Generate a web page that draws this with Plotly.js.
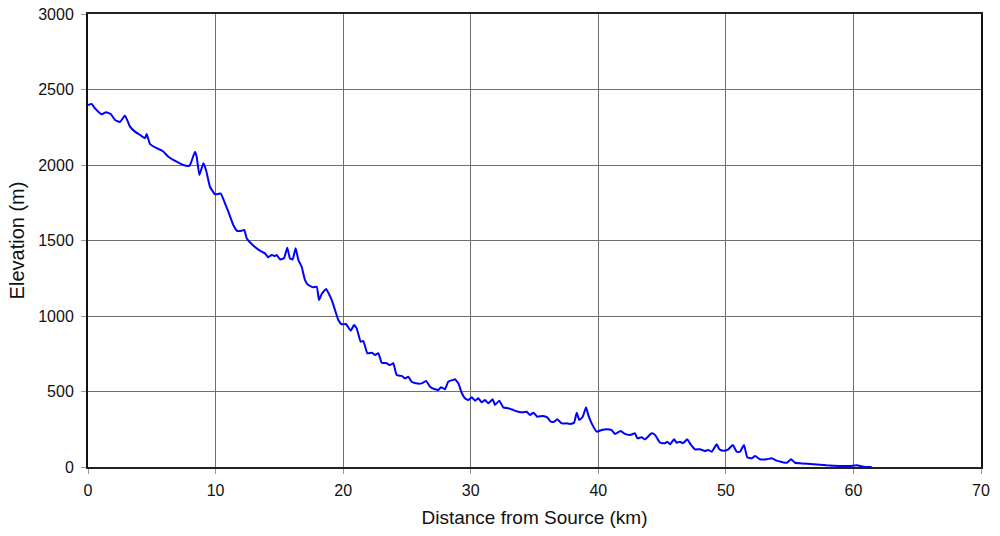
<!DOCTYPE html>
<html>
<head>
<meta charset="utf-8">
<script src="https://cdn.plot.ly/plotly-3.0.1.min.js"></script>
<style>html,body{margin:0;padding:0;background:#fff;}#chart{width:1000px;height:536px;}</style>
</head>
<body>
<div id="chart"></div>
<script>
const distanceKm = [0, 0.29, 0.55, 1.07, 1.41, 1.78, 2.12, 2.51, 2.9, 3.29, 3.68, 4.08, 4.47, 4.6, 4.86, 5.38, 5.85, 6.3, 6.95, 7.47, 7.86, 8.0, 8.39, 8.52, 8.73, 9.04, 9.25, 9.56, 9.96, 10.21, 10.4, 10.74, 11.0, 11.39, 11.7, 12.05, 12.25, 12.44, 12.83, 13.22, 13.61, 13.87, 14.13, 14.4, 14.66, 14.79, 15.05, 15.36, 15.62, 15.83, 16.04, 16.28, 16.49, 16.75, 17.01, 17.27, 17.66, 17.93, 18.11, 18.32, 18.66, 18.84, 19.1, 19.36, 19.62, 19.89, 20.22, 20.59, 20.85, 21.06, 21.38, 21.58, 21.9, 22.24, 22.5, 22.76, 23.02, 23.41, 23.67, 23.93, 24.2, 24.59, 24.85, 25.11, 25.37, 25.71, 26.16, 26.5, 26.81, 27.2, 27.46, 27.67, 27.98, 28.24, 28.59, 28.77, 29.03, 29.29, 29.55, 29.81, 30.08, 30.34, 30.6, 30.86, 31.12, 31.38, 31.72, 31.9, 32.24, 32.55, 32.95, 33.34, 33.73, 34.12, 34.39, 34.65, 34.91, 35.22, 35.64, 36.0, 36.27, 36.53, 36.79, 37.13, 37.47, 37.78, 38.1, 38.31, 38.51, 38.78, 39.04, 39.22, 39.48, 39.88, 40.27, 40.66, 41.05, 41.31, 41.76, 42.09, 42.49, 42.88, 43.06, 43.4, 43.66, 44.19, 44.45, 44.84, 45.23, 45.41, 45.62, 45.94, 46.15, 46.4, 46.62, 46.98, 47.24, 47.58, 47.97, 48.36, 48.62, 48.89, 49.28, 49.49, 49.8, 50.19, 50.54, 50.85, 51.11, 51.42, 51.68, 52.03, 52.29, 52.68, 53.2, 53.59, 53.98, 54.77, 55.11, 55.42, 55.94, 56.86, 57.9, 58.95, 59.73, 60.26, 60.78, 61.43];
const elevationM = [2397, 2404, 2375, 2336, 2349, 2338, 2298, 2285, 2327, 2254, 2221, 2199, 2177, 2205, 2139, 2111, 2093, 2055, 2022, 2000, 1993, 2000, 2088, 2055, 1934, 2011, 1967, 1856, 1806, 1808, 1812, 1746, 1691, 1603, 1563, 1565, 1570, 1515, 1477, 1448, 1426, 1415, 1389, 1404, 1397, 1404, 1375, 1382, 1452, 1382, 1375, 1448, 1371, 1326, 1238, 1205, 1190, 1194, 1106, 1146, 1179, 1154, 1106, 1040, 974, 945, 947, 903, 940, 918, 830, 834, 753, 757, 742, 753, 691, 687, 675, 687, 609, 603, 587, 598, 565, 554, 554, 570, 532, 515, 510, 528, 515, 565, 576, 581, 554, 492, 455, 444, 462, 439, 455, 428, 444, 422, 448, 411, 439, 395, 389, 377, 366, 362, 366, 344, 360, 333, 338, 329, 300, 300, 316, 289, 289, 285, 293, 360, 311, 333, 395, 344, 289, 234, 245, 250, 245, 219, 238, 219, 212, 223, 190, 197, 183, 223, 212, 161, 157, 168, 150, 183, 161, 168, 157, 183, 150, 117, 117, 106, 113, 101, 150, 117, 108, 117, 146, 101, 101, 146, 64, 58, 73, 51, 51, 58, 42, 28, 51, 28, 24, 18, 11, 7, 7, 11, 2, 0];
const xTicks = [0, 10, 20, 30, 40, 50, 60, 70];
const yTicks = [0, 500, 1000, 1500, 2000, 2500, 3000];

const trace = {
  x: distanceKm,
  y: elevationM,
  type: 'scatter',
  mode: 'lines',
  line: {color: '#0000FF', width: 2, shape: 'spline', smoothing: 0.4},
  hoverinfo: 'x+y'
};

const fam = 'Arial, "Liberation Sans", sans-serif';
const tickFont = {family: fam, size: 16, color: '#111'};
const layout = {
  width: 1000,
  height: 536,
  margin: {l: 88, r: 19, t: 14, b: 69},
  paper_bgcolor: '#fff',
  plot_bgcolor: '#fff',
  showlegend: false,
  font: tickFont,
  xaxis: {
    range: [0, 70],
    tickvals: xTicks,
    ticktext: xTicks.map(String),
    ticks: 'outside',
    ticklen: 5,
    tickcolor: '#999',
    ticklabelstandoff: 3,
    showgrid: true,
    gridcolor: '#707070',
    gridwidth: 1,
    zeroline: false,
    showline: true,
    linecolor: '#222',
    linewidth: 2,
    mirror: true,
    tickfont: tickFont,
    title: {text: 'Distance from Source (km)', font: {family: fam, size: 19, color: '#111'}, standoff: 12}
  },
  yaxis: {
    range: [0, 3000],
    tickvals: yTicks,
    ticktext: yTicks.map(String),
    ticks: 'outside',
    ticklen: 5,
    tickcolor: '#999',
    ticklabelstandoff: 4,
    showgrid: true,
    gridcolor: '#707070',
    gridwidth: 1,
    zeroline: false,
    showline: true,
    linecolor: '#111',
    linewidth: 2,
    mirror: true,
    tickfont: tickFont,
    title: {text: 'Elevation (m)', font: {family: fam, size: 20, color: '#111'}, standoff: 8}
  }
};

Plotly.newPlot('chart', [trace], layout, {displayModeBar: false, staticPlot: true});
</script>
</body>
</html>
